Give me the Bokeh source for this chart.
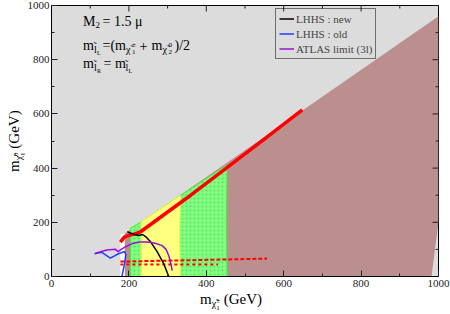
import math
from bokeh.plotting import figure
from bokeh.models import Range1d, SingleIntervalTicker, Label, Legend, LegendItem, Div
from bokeh.layouts import column, row
from bokeh.embed import file_html
from bokeh.resources import INLINE

# ---------------- data ----------------
X_MIN, X_MAX = 0, 1000
Y_MIN, Y_MAX = 0, 1000
major_ticks = [0, 200, 400, 600, 800, 1000]
minor_ticks = [100, 300, 500, 700, 900]

# excluded (brown) region
brown_x = [189, 195, 1000, 1000, 982, 189]
brown_y = [158, 164, 960, 200, 0, 0]

# white strip
white_x = [178, 178, 181, 185, 189, 189]
white_y = [0, 150, 157, 158, 155, 0]

# green region
green_x = [204, 204, 230, 256, 333, 454, 452, 454, 204]
green_y = [0, 178, 200, 225, 299, 412, 200, 0, 0]

# yellow region
yellow_x = [232, 232, 256, 333, 331, 333, 232]
yellow_y = [0, 202, 225, 299, 150, 0, 0]

# red band along the diagonal
red_x = [178, 188, 200, 215, 230, 256, 300, 359, 450, 550, 648]
red_y = [127, 145, 152, 157, 165, 192, 238, 299, 398, 507, 615]

# red dotted rows
red2_x = [178, 557]
red2_y = [55, 66]
red3_x = [178, 430]
red3_y = [44, 44]

# LHHS : new
new_x = [196, 205, 215, 225, 235, 245, 256, 273, 290, 303]
new_y = [165, 160, 155, 151, 155, 145, 128, 92, 47, 0]

# LHHS : old
old_x = [111, 130, 152, 173, 189, 192, 189, 182]
old_y = [84, 89, 68, 84, 92, 80, 49, 0]

# ATLAS limit (3l)
atl_x = [113, 143, 165, 172, 180, 192, 210, 226, 243, 256, 270, 286, 296, 303, 308, 312]
atl_y = [86, 98, 101, 92, 100, 110, 122, 127, 127, 126, 122, 114, 100, 77, 50, 22]

FONT = "Liberation Serif"
TICK_COLOR = "#222222"

p = figure(width=426, height=292, output_backend="svg", toolbar_location=None,
           x_range=Range1d(X_MIN, X_MAX), y_range=Range1d(Y_MIN, Y_MAX),
           min_border_left=27, min_border_right=12, min_border_top=5, min_border_bottom=16,
           background_fill_color="#dcdcdc", border_fill_color="white",
           outline_line_color="black", outline_line_width=1, margin=0)
p.grid.visible = False

for ax in [p.xaxis[0], p.yaxis[0]]:
    ax.ticker = SingleIntervalTicker(interval=200, num_minor_ticks=2)
    ax.major_tick_in = 6
    ax.major_tick_out = 0
    ax.minor_tick_in = 3
    ax.minor_tick_out = 0
    ax.major_tick_line_color = TICK_COLOR
    ax.minor_tick_line_color = TICK_COLOR
    ax.axis_line_color = "black"
    ax.major_label_text_font = FONT
    ax.major_label_text_font_size = "11px"
    ax.major_label_text_color = "#222222"
    ax.major_label_standoff = 3
p.yaxis[0].major_label_standoff = 2

p.patch(brown_x, brown_y, fill_color="#bc8f8f", line_color=None)
p.patch(white_x, white_y, fill_color="white", line_color=None)
p.patch(green_x, green_y, fill_color="#80ff80", line_color="#40ee40", line_width=1,
        hatch_pattern=".", hatch_color="#30a030", hatch_alpha=0.35, hatch_scale=4, hatch_weight=1)
p.patch(yellow_x, yellow_y, fill_color="#ffff80", line_color="#f0f040", line_width=1)

p.line(red_x, red_y, line_color="red", line_width=3.5)
p.line(red2_x, red2_y, line_color="red", line_width=2, line_dash="4 2")
p.line(red3_x, red3_y, line_color="red", line_width=2, line_dash="3 3")

r_new = p.line(new_x, new_y, line_color="black", line_width=1.5)
r_old = p.line(old_x, old_y, line_color="#1f3fff", line_width=1.5)
r_atl = p.line(atl_x, atl_y, line_color="#9a10d8", line_width=1.5)

# mirrored ticks on the top and right edges (half of each dash is clipped by the frame)
p.scatter(major_ticks, [Y_MAX] * len(major_ticks), marker="dash", angle=math.pi / 2, size=12,
          line_color=TICK_COLOR, line_width=1)
p.scatter(minor_ticks, [Y_MAX] * len(minor_ticks), marker="dash", angle=math.pi / 2, size=6,
          line_color=TICK_COLOR, line_width=1)
p.scatter([X_MAX] * len(major_ticks), major_ticks, marker="dash", size=12,
          line_color=TICK_COLOR, line_width=1)
p.scatter([X_MAX] * len(minor_ticks), minor_ticks, marker="dash", size=6,
          line_color=TICK_COLOR, line_width=1)

legend = Legend(items=[LegendItem(label="LHHS : new", renderers=[r_new]),
                       LegendItem(label="LHHS : old", renderers=[r_old]),
                       LegendItem(label="ATLAS limit (3l)", renderers=[r_atl])],
                location=(224, 217), label_text_font=FONT, label_text_font_size="11px",
                glyph_width=15, glyph_height=13, label_height=13, label_standoff=2,
                spacing=2, padding=3, margin=0, border_line_color="black",
                border_line_width=1, background_fill_alpha=0)
p.add_layout(legend)

FL, FB = 51, 276  # frame left / bottom on the page


def txt(s, px, py, size):
    p.add_layout(Label(x=px - FL, y=FB - py, x_units="screen", y_units="screen", text=s,
                       text_font=FONT, text_font_size=f"{size}px", text_baseline="alphabetic",
                       text_color="black"))


# annotations inside the plot
txt("M", 82.5, 21, 14)
txt("2", 95, 24, 9)
txt("= 1.5 μ", 102, 21, 14)

txt("m", 82.5, 45, 14)
txt("l\u0303", 93.5, 48.5, 10)
txt("L", 96.5, 52, 6)
txt("=(m", 102, 45, 14)
txt("χ\u0303", 125.5, 48.5, 10)
txt("±", 131.5, 44, 7)
txt("1", 131.5, 51, 7)
txt("+", 139, 45, 14)
txt("m", 151, 45, 14)
txt("χ\u0303", 162, 48.5, 10)
txt("0", 168, 44, 7)
txt("2", 168, 51, 7)
txt(")/2", 174, 45, 14)

txt("m", 82.5, 63, 14)
txt("l\u0303", 93.5, 66.5, 10)
txt("R", 96.5, 70, 6)
txt("= m", 103, 63, 14)
txt("l\u0303", 125, 66.5, 10)
txt("L", 128, 70, 6)

# axis titles as HTML (real text with sub/superscripts)
SUBCHI = '<span style="font-size:10px; vertical-align:-3px;">χ&#771;</span>'


def stack(top, bottom):
    return ('<span style="display:inline-block; font-size:7px; line-height:7px; '
            'vertical-align:-6px; text-align:left;">' + top + '<br>' + bottom + '</span>')


BASE = "font-family:'Liberation Serif'; font-size:15px; line-height:17px; white-space:nowrap; color:black;"

x_title = Div(text=('<div style="' + BASE + ' margin-left:200px; margin-top:-2px; width:max-content;">'
                    'm' + SUBCHI + stack("±", "1") + ' (GeV)</div>'),
              width=450, height=22, margin=0, styles={"overflow": "visible"})

y_title = Div(text=('<div style="' + BASE + ' width:max-content; transform-origin:0 0; '
                    'transform:translate(6px, 172px) rotate(-90deg);">'
                    'm' + SUBCHI + stack("0", "1") + ' (GeV)</div>'),
              width=24, height=292, margin=0, styles={"overflow": "visible"})

layout = column(row(y_title, p, spacing=0, margin=0), x_title, spacing=0, margin=0)

open("out.html", "w").write(file_html(layout, INLINE))
